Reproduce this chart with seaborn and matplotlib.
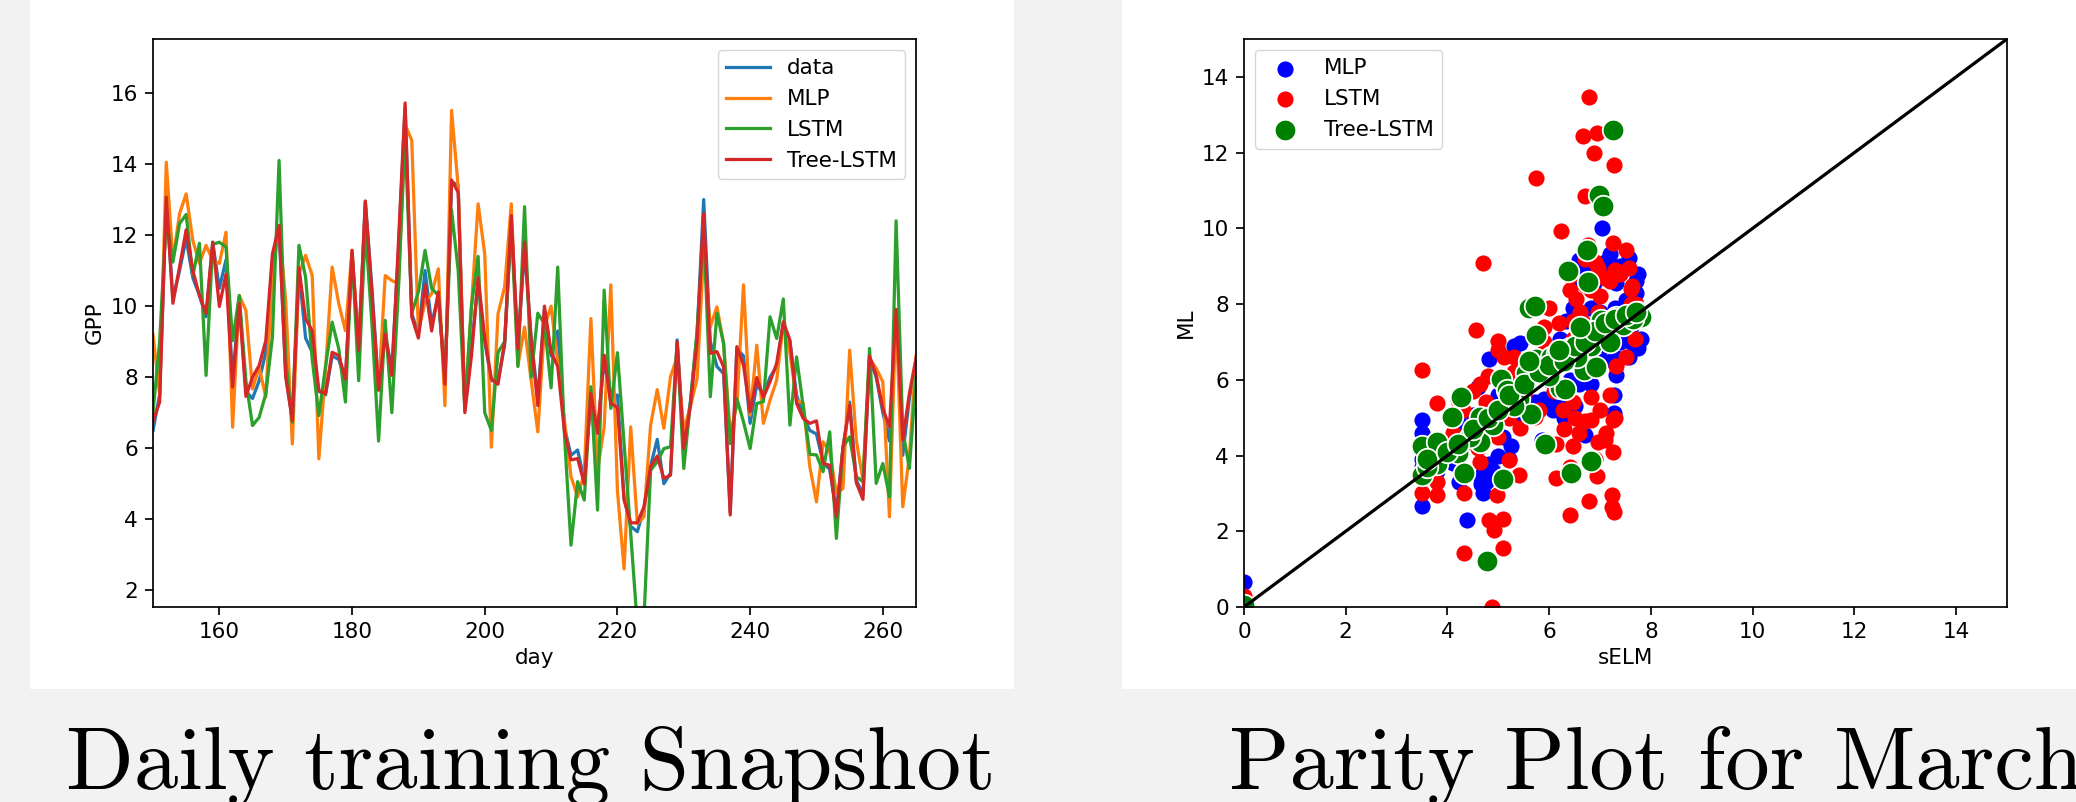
import matplotlib
matplotlib.use("Agg")
import matplotlib.pyplot as plt
import seaborn as sns
import pandas as pd
from matplotlib.patches import Rectangle

# ---- left panel: daily GPP series ----
days = list(range(150, 266))

gpp_data = [6.5, 7.5, 13.0, 10.2, 11.0, 11.9, 10.8, 10.3, 9.7, 11.8,
            10.5, 11.3, 7.9, 10.2, 7.6, 7.4, 7.9, 8.7, 11.3, 12.2,
            8.1, 6.8, 11.0, 9.1, 8.7, 7.6, 7.5, 8.6, 8.5, 7.9,
            11.5, 8.8, 12.95, 10.5, 7.7, 9.2, 8.2, 11.6, 15.6, 9.8,
            9.2, 11.0, 9.5, 10.3, 7.9, 13.5, 13.4, 7.1, 8.8, 10.7,
            9.0, 7.9, 7.9, 8.9, 12.4, 8.9, 11.6, 9.1, 7.4, 9.9,
            8.6, 9.3, 6.6, 5.8, 5.95, 5.1, 7.5, 6.5, 8.5, 7.3,
            7.5, 4.6, 3.8, 3.65, 4.3, 5.5, 6.25, 5.0, 5.3, 9.05,
            6.1, 7.3, 9.2, 13.0, 9.0, 8.3, 8.1, 4.2, 8.8, 8.6,
            6.7, 7.8, 7.5, 8.0, 8.3, 9.5, 9.0, 7.5, 6.9, 6.5,
            6.4, 5.6, 5.4, 4.2, 6.0, 7.3, 5.1, 4.7, 8.5, 8.0,
            7.0, 6.2, 9.8, 5.8, 7.4, 8.4]

gpp_mlp = [9.2, 7.5, 14.05, 11.29, 12.6, 13.16, 11.85, 11.2, 11.71, 11.29,
           11.2, 12.08, 6.59, 10.3, 9.88, 7.67, 8.28, 7.44, 10.91, 12.23,
           10.16, 6.12, 10.91, 11.43, 10.86, 5.7, 8.19, 11.1, 10.07, 9.31,
           11.57, 8.85, 12.79, 10.0, 7.62, 10.86, 10.72, 10.63, 15.1, 14.67,
           9.3, 10.1, 10.35, 11.05, 7.2, 15.51, 13.35, 7.1, 10.0, 12.88,
           11.47, 6.03, 9.78, 10.54, 12.88, 8.33, 9.41, 7.9, 6.46, 9.42,
           10.0, 8.4, 6.8, 5.2, 4.63, 5.3, 9.65, 5.38, 6.6, 10.6,
           4.8, 2.6, 6.6, 3.88, 4.07, 6.65, 7.65, 6.56, 8.01, 8.57,
           6.51, 7.17, 7.96, 11.5, 9.42, 9.98, 8.95, 6.42, 7.2, 10.6,
           6.93, 8.9, 6.7, 7.35, 7.92, 9.51, 8.67, 7.35, 7.26, 5.48,
           4.49, 6.18, 5.9, 4.73, 4.87, 8.76, 6.23, 5.1, 8.53, 8.25,
           7.87, 4.07, 9.89, 4.35, 5.76, 8.6]

gpp_lstm = [7.0, 9.0, 12.5, 11.24, 12.32, 12.58, 10.86, 11.77, 8.05, 11.74,
            11.8, 11.66, 9.03, 10.3, 7.9, 6.64, 6.87, 7.53, 9.13, 14.1,
            8.47, 6.73, 11.71, 10.82, 8.5, 6.92, 8.3, 9.55, 8.8, 7.3,
            11.5, 7.9, 12.2, 9.5, 6.2, 9.6, 7.0, 10.5, 14.8, 9.8,
            10.4, 11.57, 10.5, 10.3, 8.0, 12.7, 11.0, 7.1, 10.0, 11.4,
            7.0, 6.5, 8.7, 9.0, 12.3, 8.3, 12.8, 8.0, 9.8, 9.5,
            7.7, 11.1, 6.42, 3.27, 5.06, 4.54, 7.73, 4.26, 10.45, 7.12,
            8.69, 6.13, 3.6, 1.0, 1.2, 5.38, 5.62, 5.99, 6.04, 8.95,
            5.43, 7.3, 9.3, 12.2, 7.45, 9.8, 8.95, 6.13, 7.4, 6.74,
            5.99, 7.26, 7.31, 9.7, 9.09, 10.2, 6.65, 8.57, 7.17, 5.83,
            5.81, 5.34, 6.46, 3.46, 6.04, 6.32, 5.2, 5.06, 8.81, 5.01,
            5.57, 4.63, 12.4, 6.51, 5.43, 8.0]

gpp_tree = [6.75, 7.3, 13.07, 10.08, 11.1, 12.15, 11.0, 10.3, 9.8, 11.8,
            9.99, 10.9, 7.72, 10.07, 7.46, 8.0, 8.33, 9.03, 11.47, 12.27,
            8.0, 6.78, 11.08, 9.64, 9.31, 7.62, 7.53, 8.7, 8.61, 7.95,
            11.57, 8.75, 12.96, 10.35, 7.64, 9.22, 8.05, 11.8, 15.72, 9.7,
            9.1, 10.6, 9.3, 10.4, 7.8, 13.55, 13.2, 7.0, 8.6, 10.8,
            9.1, 7.95, 7.8, 9.0, 12.55, 8.8, 11.8, 9.0, 7.2, 10.0,
            8.7, 8.3, 6.5, 5.67, 5.71, 5.0, 7.54, 6.42, 8.62, 7.26,
            7.15, 4.54, 3.9, 3.9, 4.35, 5.48, 5.78, 5.15, 5.24, 9.0,
            6.0, 7.2, 9.0, 12.6, 8.67, 8.72, 8.29, 4.12, 8.86, 8.34,
            7.03, 7.99, 7.43, 7.87, 8.39, 9.56, 9.04, 7.26, 6.84, 6.7,
            6.77, 5.57, 5.52, 4.07, 6.04, 7.21, 5.03, 4.56, 8.59, 8.06,
            7.12, 6.6, 9.91, 6.23, 7.54, 8.53]

# ---- right panel: parity plot (sELM vs ML) ----
mlp_x = [0.0, 3.49, 3.49, 3.49, 4.38, 3.79, 4.2, 4.22, 4.66, 4.69,
         4.81, 5.24, 5.85, 6.71, 7.27, 7.27, 7.32, 7.56, 7.75, 7.81,
         7.75, 7.56, 7.2, 7.04, 6.59, 7.32, 6.89, 6.46, 6.34, 4.81,
         5.42, 6.07, 5.12, 4.57, 5.73, 6.83, 6.22, 7.05, 6.83, 6.59,
         4.5, 3.49, 3.79, 4.2, 4.66, 4.75, 5.0, 5.1, 5.5, 6.0,
         6.2, 6.4, 6.6, 6.7, 6.9, 7.1, 7.3, 7.5, 7.7, 7.6,
         7.4, 6.5, 6.3, 7.0, 6.6, 5.3, 5.6, 4.6,
         6.5, 6.7, 7.1, 7.4, 7.7, 7.8, 7.6, 7.3, 7.1, 6.8,
         6.3, 6.1, 5.9, 5.4, 5.0, 4.9, 4.3, 4.1, 3.5, 3.8,
         4.7, 4.9, 5.2, 6.4, 6.8, 7.0, 7.5]
mlp_y = [0.65, 4.95, 4.6, 2.68, 2.3, 4.19, 4.6, 3.3, 3.24, 3.54,
         3.77, 4.25, 4.42, 4.54, 5.13, 5.6, 6.13, 6.6, 6.84, 7.08,
         8.79, 9.22, 9.32, 10.0, 9.17, 8.55, 8.55, 7.9, 7.55, 6.54,
         6.96, 5.19, 5.42, 4.83, 5.42, 7.9, 7.08, 6.49, 5.9, 5.9,
         5.07, 3.7, 3.9, 4.9, 3.4, 3.3, 4.0, 4.5, 5.0, 6.0,
         6.6, 6.8, 7.3, 6.4, 7.2, 7.6, 7.9, 8.1, 8.3, 7.4,
         7.0, 5.3, 5.0, 8.9, 8.8, 6.9, 6.4, 5.8,
         8.6, 9.0, 9.1, 9.0, 8.6, 7.6, 7.0, 6.6, 6.9, 6.2,
         5.4, 5.6, 5.5, 5.9, 5.6, 5.2, 4.3, 3.8, 3.9, 3.6,
         3.0, 3.6, 3.9, 6.0, 7.0, 7.8, 7.7]

lstm_x = [0.0, 6.78, 6.67, 6.94, 6.89, 7.27, 5.75, 6.71, 6.23, 4.69,
          4.57, 3.49, 3.79, 3.49, 3.79, 4.32, 4.32, 4.81, 5.09, 4.91,
          5.09, 4.87, 4.97, 5.41, 6.13, 6.4, 6.79, 7.23, 7.23, 7.27,
          6.93, 6.41, 6.13, 7.26, 7.11, 7.26, 5.21, 4.64, 4.64, 4.22,
          4.99, 6.0, 5.56, 6.41, 6.41, 6.52, 6.77, 7.26, 7.5, 7.56,
          7.63, 7.2, 6.95, 6.83, 6.95, 6.65, 6.46, 5.97, 5.61, 5.12,
          5.24, 4.75, 4.5, 4.99, 5.42, 5.73, 6.28, 6.46, 6.83, 6.83,
          6.95, 6.59, 6.46, 7.32, 7.5, 7.69, 6.46, 3.49, 4.2, 5.3,
          5.9, 6.7, 7.0, 7.4, 7.6, 4.4,
          4.3, 4.5, 4.8, 5.0, 5.3, 5.5, 5.8, 6.1, 6.3, 6.5,
          6.7, 7.0, 7.2, 7.3, 7.1, 6.9, 6.7, 6.9, 7.1, 7.3,
          7.6, 7.7, 7.5, 6.6, 6.2, 5.9, 5.2, 4.6, 4.1, 3.6, 3.8]
lstm_y = [0.3, 13.48, 12.44, 12.51, 11.98, 11.66, 11.32, 10.85, 9.94, 9.08,
          7.31, 6.27, 5.39, 3.0, 2.95, 3.0, 1.42, 2.3, 2.32, 2.03,
          1.56, 0.0, 2.95, 3.48, 3.4, 2.42, 2.79, 2.95, 2.65, 2.5,
          3.47, 3.71, 4.3, 4.1, 4.6, 4.95, 3.89, 3.83, 5.9, 5.42,
          7.02, 7.9, 7.9, 8.73, 8.37, 8.14, 9.55, 9.61, 9.43, 8.96,
          8.49, 8.61, 8.96, 8.37, 7.78, 7.55, 7.08, 6.6, 6.25, 6.6,
          5.78, 5.42, 4.83, 4.48, 4.72, 5.01, 5.19, 5.42, 5.54, 4.95,
          4.36, 4.6, 4.25, 6.37, 6.6, 7.08, 7.55, 4.1, 5.5, 6.2,
          7.4, 9.2, 8.2, 8.8, 8.0, 4.6,
          5.2, 5.7, 6.1, 6.8, 6.6, 5.6, 5.2, 5.7, 4.7, 5.0,
          4.9, 5.2, 5.6, 5.0, 4.4, 3.9, 8.5, 9.1, 8.7, 8.9,
          8.4, 8.0, 7.5, 7.8, 7.5, 7.0, 5.0, 4.2, 4.6, 4.1, 3.3]

tree_x = [0.0, 3.49, 3.49, 3.79, 3.79, 4.2, 4.32, 4.08, 4.26, 4.63,
          4.77, 4.63, 4.77, 5.09, 5.06, 5.18, 5.4, 5.64, 5.54, 5.75,
          5.75, 5.61, 5.73, 5.97, 6.03, 6.22, 6.32, 6.16, 6.4, 6.46,
          6.65, 6.69, 6.83, 6.92, 7.01, 7.1, 7.32, 7.59, 7.75, 7.81,
          6.77, 6.36, 6.74, 6.98, 7.05, 7.26, 6.83, 6.43, 5.91, 7.45,
          7.2, 6.55, 6.0, 5.3, 4.9, 4.45, 3.6, 6.85, 7.65,
          3.6, 4.0, 4.2, 4.5, 4.8, 5.0, 5.2, 5.5, 5.8, 6.0,
          6.3, 6.5, 6.7, 6.9, 7.1, 7.3, 7.5, 7.7, 6.6, 6.2, 5.6]
tree_y = [0.06, 3.48, 4.25, 4.36, 3.77, 4.07, 3.54, 5.01, 5.54, 4.36,
          4.89, 5.01, 1.21, 3.38, 6.01, 5.72, 5.48, 5.09, 6.19, 6.54,
          7.17, 7.9, 7.96, 6.25, 6.6, 5.78, 5.75, 6.72, 6.84, 6.54,
          7.19, 6.27, 6.9, 6.33, 7.57, 7.25, 7.67, 7.57, 7.78, 7.67,
          8.58, 8.87, 9.43, 10.88, 10.59, 12.59, 3.86, 3.54, 4.3, 7.45,
          7.0, 6.6, 6.1, 5.3, 4.8, 4.5, 3.7, 7.3, 7.6,
          3.9, 4.1, 4.3, 4.7, 5.0, 5.2, 5.6, 5.9, 6.2, 6.4,
          6.5, 6.9, 7.0, 7.3, 7.5, 7.6, 7.7, 7.8, 7.4, 6.8, 6.5]

s = 1.55
plt.rcParams.update({
    "font.size": 10 * s,
    "lines.linewidth": 1.5 * s,
    "axes.linewidth": 0.8 * s,
    "xtick.major.size": 3.5 * s,
    "ytick.major.size": 3.5 * s,
    "xtick.major.width": 0.8 * s,
    "ytick.major.width": 0.8 * s,
    "xtick.major.pad": 3.5 * s,
    "ytick.major.pad": 3.5 * s,
})

fig = plt.figure(figsize=(20.76, 8.02), dpi=100, facecolor="#f2f2f2")

# white panels behind each chart
fig.add_artist(Rectangle((30 / 2076, 1 - 689 / 802), (1014 - 30) / 2076, 689 / 802,
                         transform=fig.transFigure, facecolor="white", edgecolor="none", zorder=-5))
fig.add_artist(Rectangle((1122 / 2076, 1 - 689 / 802), (2076 - 1122) / 2076, 689 / 802,
                         transform=fig.transFigure, facecolor="white", edgecolor="none", zorder=-5))

ax1 = fig.add_axes([153 / 2076, 195 / 802, 763 / 2076, 568 / 802])
ax2 = fig.add_axes([1244 / 2076, 195 / 802, 763 / 2076, 568 / 802])

df = pd.DataFrame({"day": days, "data": gpp_data, "MLP": gpp_mlp,
                   "LSTM": gpp_lstm, "Tree-LSTM": gpp_tree})
palette = sns.color_palette("tab10")
for i, col in enumerate(["data", "MLP", "LSTM", "Tree-LSTM"]):
    sns.lineplot(data=df, x="day", y=col, ax=ax1, color=palette[i], label=col)
ax1.set_xlim(150, 265)
ax1.set_ylim(1.53, 17.52)
ax1.set_xticks([160, 180, 200, 220, 240, 260])
ax1.set_yticks([2, 4, 6, 8, 10, 12, 14, 16])
ax1.set_xlabel("day")
ax1.set_ylabel("GPP")
ax1.legend(loc="upper right")

ax2.plot([0, 15], [0, 15], color="black", lw=1.5 * s, zorder=4)
sns.scatterplot(x=mlp_x, y=mlp_y, ax=ax2, color="blue", s=135, linewidth=0, label="MLP")
sns.scatterplot(x=lstm_x, y=lstm_y, ax=ax2, color="red", s=135, linewidth=0, label="LSTM")
sns.scatterplot(x=tree_x, y=tree_y, ax=ax2, color="green", s=240, edgecolor="white",
                linewidth=1.3, label="Tree-LSTM")
ax2.set_xlim(0, 15)
ax2.set_ylim(0, 15)
ax2.set_xticks([0, 2, 4, 6, 8, 10, 12, 14])
ax2.set_yticks([0, 2, 4, 6, 8, 10, 12, 14])
ax2.set_xlabel("sELM")
ax2.set_ylabel("ML")
ax2.legend(loc="upper left")

# captions under the panels
fig.text(66 / 2076, 13 / 802, "Daily training Snapshot", family="cmr10",
         fontsize=64, ha="left", va="baseline")
fig.text(1229 / 2076, 13 / 802, "Parity Plot for March", family="cmr10",
         fontsize=64, ha="left", va="baseline")

fig.savefig("out.png", dpi=100, facecolor=fig.get_facecolor())
